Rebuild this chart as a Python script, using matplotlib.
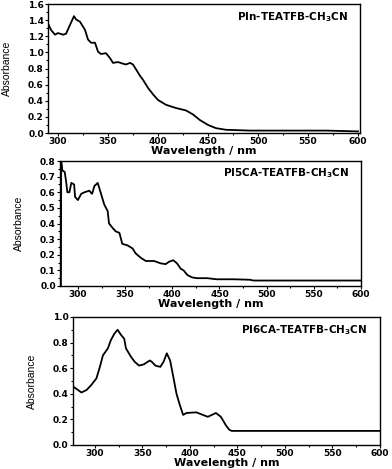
import numpy as np
import matplotlib
matplotlib.use('Agg')
import matplotlib.pyplot as plt
from matplotlib.ticker import MultipleLocator, FormatStrFormatter

# PIn-TEATFB-CH3CN
wl_pin = [290, 293, 297, 300, 305, 308, 312, 316, 318, 322, 327, 330, 333, 337, 340,
          343, 348, 352, 355, 360, 365, 368, 372, 375, 378, 382, 385, 390, 395, 400,
          408, 418, 428, 435, 442, 450, 458, 468, 492, 542, 568, 600]
abs_pin = [1.36, 1.28, 1.22, 1.24, 1.22, 1.23, 1.34, 1.45, 1.41, 1.38, 1.28, 1.16, 1.12, 1.12, 1.01,
           0.98, 0.99, 0.93, 0.87, 0.88, 0.86, 0.85, 0.87, 0.85, 0.79, 0.71, 0.66, 0.56, 0.48, 0.41,
           0.35, 0.31, 0.28, 0.23, 0.16, 0.10, 0.06, 0.04, 0.03, 0.03, 0.03, 0.02]

# PI5CA-TEATFB-CH3CN
wl_pi5 = [282, 282.3, 283.5, 286, 287.7, 288.8, 291, 293, 296, 297, 300, 303.5, 307, 312,
          315, 317.5, 321, 324.5, 328, 331.5, 333, 337, 340, 344, 347, 352.6, 358, 361,
          366.7, 372, 380.7, 387.7, 393, 396.5, 401, 405, 409, 412, 416, 421, 426, 437,
          447, 465, 482, 486, 600]
abs_pi5 = [0.0, 0.80, 0.74, 0.73, 0.66, 0.60, 0.60, 0.66, 0.65, 0.57, 0.55, 0.59, 0.60, 0.61,
           0.59, 0.64, 0.66, 0.59, 0.52, 0.48, 0.40, 0.37, 0.35, 0.34, 0.27, 0.26, 0.24, 0.21,
           0.18, 0.16, 0.16, 0.145, 0.14, 0.155, 0.165, 0.145, 0.11, 0.10, 0.07, 0.055, 0.05, 0.05,
           0.043, 0.043, 0.04, 0.035, 0.035]

# PI6CA-TEATFB-CH3CN
wl_pi6 = [277.5, 286, 291.4, 296.5, 301.7, 305, 308.6, 313.8, 317, 320.7, 324, 327.6, 331,
          332.8, 338, 342, 346.5, 351.7, 357.9, 360, 363.8, 369, 372.4, 375.8, 379.3, 382.7,
          386, 389.6, 393, 396.5, 406.8, 413.8, 419, 427.5, 432.7, 437.8, 441.4, 444, 600]
abs_pi6 = [0.455, 0.41, 0.43, 0.47, 0.52, 0.60, 0.70, 0.755, 0.82, 0.87, 0.90, 0.86, 0.83,
           0.755, 0.69, 0.65, 0.62, 0.63, 0.66, 0.65, 0.62, 0.61, 0.65, 0.716, 0.66, 0.53,
           0.40, 0.31, 0.235, 0.25, 0.255, 0.235, 0.22, 0.25, 0.22, 0.156, 0.12, 0.11, 0.11]

panels = [
    (wl_pin, abs_pin, 'PIn-TEATFB-CH$_\\mathbf{3}$CN', (290, 602), 1.6, 0.2, [0.1224, 0.7164, 0.796, 0.275], -0.115),
    (wl_pi5, abs_pi5, 'PI5CA-TEATFB-CH$_\\mathbf{3}$CN', (281, 600), 0.8, 0.1, [0.153, 0.3902, 0.768, 0.2665], -0.12),
    (wl_pi6, abs_pi6, 'PI6CA-TEATFB-CH$_\\mathbf{3}$CN', (277, 600), 1.0, 0.2, [0.186, 0.0512, 0.783, 0.273], -0.117),
]

fig = plt.figure(figsize=(3.92, 4.69), dpi=100)
for wl, ab, name, xl, ymax, ystep, pos, ylab_x in panels:
    ax = fig.add_axes(pos)
    ax.plot(wl, ab, color='black', lw=1.3)
    ax.set_xlim(*xl)
    ax.set_ylim(0, ymax)
    ax.xaxis.set_major_locator(MultipleLocator(50))
    ax.xaxis.set_minor_locator(MultipleLocator(25))
    ax.yaxis.set_major_locator(MultipleLocator(ystep))
    ax.yaxis.set_minor_locator(MultipleLocator(ystep / 2))
    ax.yaxis.set_major_formatter(FormatStrFormatter('%.1f'))
    ax.tick_params(which='both', direction='out', labelsize=6.5, width=0.8, pad=1)
    ax.tick_params(which='major', length=2)
    ax.tick_params(which='minor', length=1.2)
    for lab in ax.get_xticklabels() + ax.get_yticklabels():
        lab.set_fontweight('bold')
    for s in ax.spines.values():
        s.set_linewidth(1.0)
    ax.set_xlabel('Wavelength / nm', fontsize=8, fontweight='bold', labelpad=0)
    ax.set_ylabel('Absorbance', fontsize=7.5, family=['Liberation Sans', 'DejaVu Sans'])
    ax.yaxis.set_label_coords(ylab_x, 0.5)
    ax.text(0.96, 0.9, name, transform=ax.transAxes, ha='right', va='center',
            fontsize=7.5, fontweight='bold')

fig.savefig('out.png', dpi=100)
